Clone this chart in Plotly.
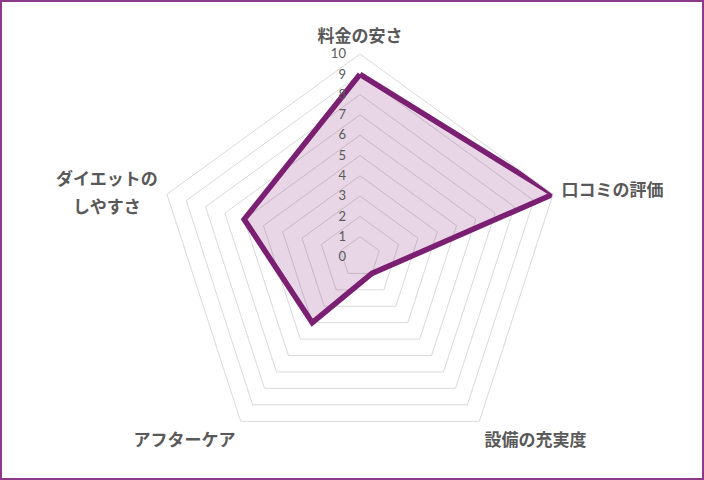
import plotly.graph_objects as go

# データ
categories = ["料金の安さ", "口コミの評価", "設備の充実度", "アフターケア", "ダイエットのしやすさ"]
scores = [9, 10, 1, 4, 6]
tick_values = list(range(0, 11))
# 2行に分けて表示するラベル
wrapped_label = ["ダイエットの", "しやすさ"]

# 閉じた多角形にする
r_closed = scores + scores[:1]
theta_closed = categories + categories[:1]

W, H = 704, 480
ml, mr, mt, mb = 157, 141, 54, 20
pw = W - ml - mr
ph = H - mt - mb

label_font = dict(size=17, color="#595959", family="Noto Sans CJK JP", weight="bold")

fig = go.Figure()

fig.add_trace(go.Scatterpolar(
    r=r_closed,
    theta=theta_closed,
    mode="lines",
    fill="toself",
    fillcolor="rgba(125,30,115,0.18)",
    line=dict(color="#7B1F72", width=5.5),
    hoverinfo="r+theta",
    showlegend=False,
))

# 左側のラベルは2行（行間を広く）
annotations = []
for i, line in enumerate(wrapped_label):
    annotations.append(dict(
        text=line, xref="paper", yref="paper",
        x=(107 - ml) / pw, y=(H - mb - (177 + 28 * i)) / ph,
        xanchor="center", yanchor="middle",
        showarrow=False, font=label_font,
    ))

fig.update_layout(
    width=W,
    height=H,
    margin=dict(l=ml, r=mr, t=mt, b=mb, autoexpand=False),
    paper_bgcolor="white",
    font=dict(family="Noto Sans CJK JP", color="#595959"),
    annotations=annotations,
    polar=dict(
        bgcolor="white",
        gridshape="linear",
        radialaxis=dict(
            range=[0, 10],
            tickvals=tick_values,
            angle=90,
            tickangle=90,
            side="counterclockwise",
            showline=False,
            ticks="outside",
            ticklen=9,
            tickcolor="rgba(0,0,0,0)",
            gridcolor="#D9D9D9",
            gridwidth=1,
            tickfont=dict(size=13, color="#595959", family="Lato"),
        ),
        angularaxis=dict(
            rotation=90,
            direction="clockwise",
            tickmode="array",
            tickvals=categories,
            ticktext=categories[:4] + [""],
            showgrid=False,
            linecolor="#D9D9D9",
            ticks="outside",
            ticklen=5,
            tickcolor="rgba(0,0,0,0)",
            tickfont=label_font,
        ),
    ),
    shapes=[dict(
        type="rect", xref="paper", yref="paper",
        x0=-(ml - 1) / pw, x1=1 + (mr - 1) / pw,
        y0=-(mb - 1) / ph, y1=1 + (mt - 1) / ph,
        line=dict(color="#8E3A8C", width=2),
    )],
)

fig.write_html("out.html", config={"displayModeBar": False},
               post_script="document.body.style.margin='0';")
